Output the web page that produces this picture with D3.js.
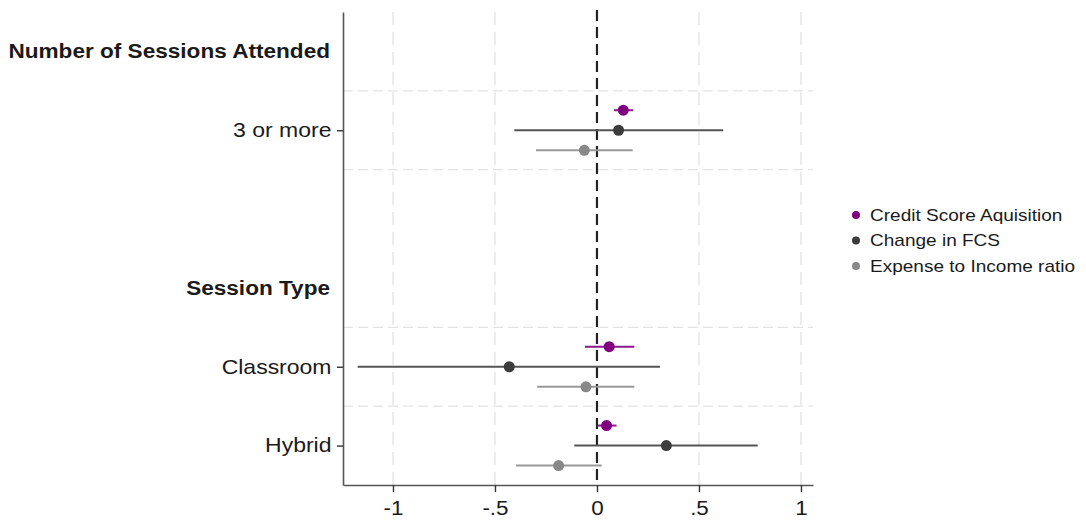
<!DOCTYPE html>
<html>
<head>
<meta charset="utf-8">
<script src="https://cdn.jsdelivr.net/npm/d3@7"></script>
<style>
  body { margin: 0; background: #fff; }
  text { font-family: "Liberation Sans", Arial, sans-serif; fill: #1a1a1a; }
</style>
</head>
<body>
<svg id="chart" width="1086" height="523"></svg>
<script>
// rows from top to bottom: headers and coefficient labels
const rows = ["Number of Sessions Attended", "3 or more", "", "Session Type", "Classroom", "Hybrid"];
const headers = ["Number of Sessions Attended", "Session Type"];
const coefs = ["3 or more", "Classroom", "Hybrid"];

const seriesNames = ["Credit Score Aquisition", "Change in FCS", "Expense to Income ratio"];
// estimate, lower CI, upper CI per coefficient
const creditScore = [[0.129, 0.083, 0.178], [0.060, -0.059, 0.183], [0.047, 0.002, 0.096]];
const changeFCS   = [[0.106, -0.405, 0.619], [-0.430, -1.173, 0.309], [0.340, -0.111, 0.788]];
const expenseInc  = [[-0.062, -0.299, 0.175], [-0.054, -0.293, 0.183], [-0.188, -0.397, 0.023]];
const xTicks = [-1, -0.5, 0, 0.5, 1];
const xTickLabels = ["-1", "-.5", "0", ".5", "1"];

const series = [creditScore, changeFCS, expenseInc];
const dotColors = ["#800080", "#3c3c3c", "#888888"];
const lineColors = ["#8a1a8a", "#555555", "#999999"];
const offsets = [-0.254, 0, 0.254];
const stretch = "scale(1.15,1)";

const svg = d3.select("#chart");
const plot = { left: 343, right: 813, top: 12, bottom: 485 };

const x = d3.scaleLinear().domain([-1.245, 1.059]).range([plot.left, plot.right]);
const y = d3.scaleLinear().domain([-0.5, rows.length - 0.5]).range([plot.top, plot.bottom]);

// vertical grid
svg.append("g")
  .selectAll("line")
  .data(xTicks.filter(d => d !== 0))
  .join("line")
  .attr("x1", d => x(d)).attr("x2", d => x(d))
  .attr("y1", plot.top).attr("y2", plot.bottom)
  .attr("stroke", "#e3e3e3").attr("stroke-width", 1.3)
  .attr("stroke-dasharray", "13,7");

// horizontal grid around each coefficient row
const hGrid = [];
coefs.forEach(c => {
  const i = rows.indexOf(c);
  hGrid.push(i - 0.5, i + 0.5);
});
svg.append("g")
  .selectAll("line")
  .data(Array.from(new Set(hGrid)).filter(d => d < rows.length - 0.5))
  .join("line")
  .attr("x1", plot.left).attr("x2", plot.right)
  .attr("y1", d => y(d)).attr("y2", d => y(d))
  .attr("stroke", "#e3e3e3").attr("stroke-width", 1.3)
  .attr("stroke-dasharray", "10,5");

// reference line at 0
svg.append("line")
  .attr("x1", x(0)).attr("x2", x(0))
  .attr("y1", plot.top - 2).attr("y2", plot.bottom)
  .attr("stroke", "#222").attr("stroke-width", 2.2)
  .attr("stroke-dasharray", "11,6");

// axes
const xAxis = svg.append("g")
  .attr("transform", `translate(0,${plot.bottom})`)
  .call(d3.axisBottom(x).tickValues(xTicks).tickFormat((d, i) => xTickLabels[i]).tickSize(7).tickPadding(9).tickSizeOuter(0));
xAxis.select(".domain").attr("stroke", "#555").attr("stroke-width", 1.6);
xAxis.selectAll(".tick line").attr("stroke", "#333").attr("stroke-width", 1.4);
xAxis.selectAll(".tick text")
  .attr("font-size", 19.5).attr("fill", "#1a1a1a")
  .attr("font-family", "Liberation Sans, Arial, sans-serif")
  .attr("transform", stretch);

const yAxis = svg.append("g")
  .attr("transform", `translate(${plot.left},0)`)
  .call(d3.axisLeft(y).tickValues(coefs.map(c => rows.indexOf(c))).tickFormat(i => rows[i]).tickSize(6).tickPadding(4).tickSizeOuter(0));
yAxis.select(".domain").attr("stroke", "#555").attr("stroke-width", 1.6);
yAxis.selectAll(".tick line").attr("stroke", "#333").attr("stroke-width", 1.4);
yAxis.selectAll(".tick text")
  .attr("font-size", 20).attr("fill", "#1a1a1a")
  .attr("font-family", "Liberation Sans, Arial, sans-serif")
  .attr("transform", stretch);

// group headers
svg.append("g")
  .selectAll("text")
  .data(headers)
  .join("text")
  .attr("transform", d => `translate(330,${y(rows.indexOf(d))}) scale(1.17,1)`)
  .attr("text-anchor", "end")
  .attr("dy", "0.35em")
  .attr("font-size", 19.3)
  .attr("font-weight", "bold")
  .attr("fill", "#111")
  .text(d => d);

// confidence intervals and points
series.forEach((s, k) => {
  const g = svg.append("g");
  const data = s.map((v, j) => ({ row: rows.indexOf(coefs[j]) + offsets[k], est: v[0], lo: v[1], hi: v[2] }));
  g.selectAll("line")
    .data(data)
    .join("line")
    .attr("x1", d => x(d.lo)).attr("x2", d => x(d.hi))
    .attr("y1", d => y(d.row)).attr("y2", d => y(d.row))
    .attr("stroke", lineColors[k]).attr("stroke-width", 2);
  g.selectAll("circle")
    .data(data)
    .join("circle")
    .attr("cx", d => x(d.est))
    .attr("cy", d => y(d.row))
    .attr("r", 5.5)
    .attr("fill", dotColors[k]);
});

// legend
const legend = svg.append("g").attr("transform", "translate(856,215)");
const item = legend.selectAll("g")
  .data(seriesNames)
  .join("g")
  .attr("transform", (d, i) => `translate(0,${i * 25.5})`);
item.append("circle").attr("r", 4).attr("fill", (d, i) => dotColors[i]);
item.append("text")
  .attr("transform", `translate(14,0) scale(1.12,1)`)
  .attr("dy", "0.35em")
  .attr("font-size", 17)
  .text(d => d);
</script>
</body>
</html>
